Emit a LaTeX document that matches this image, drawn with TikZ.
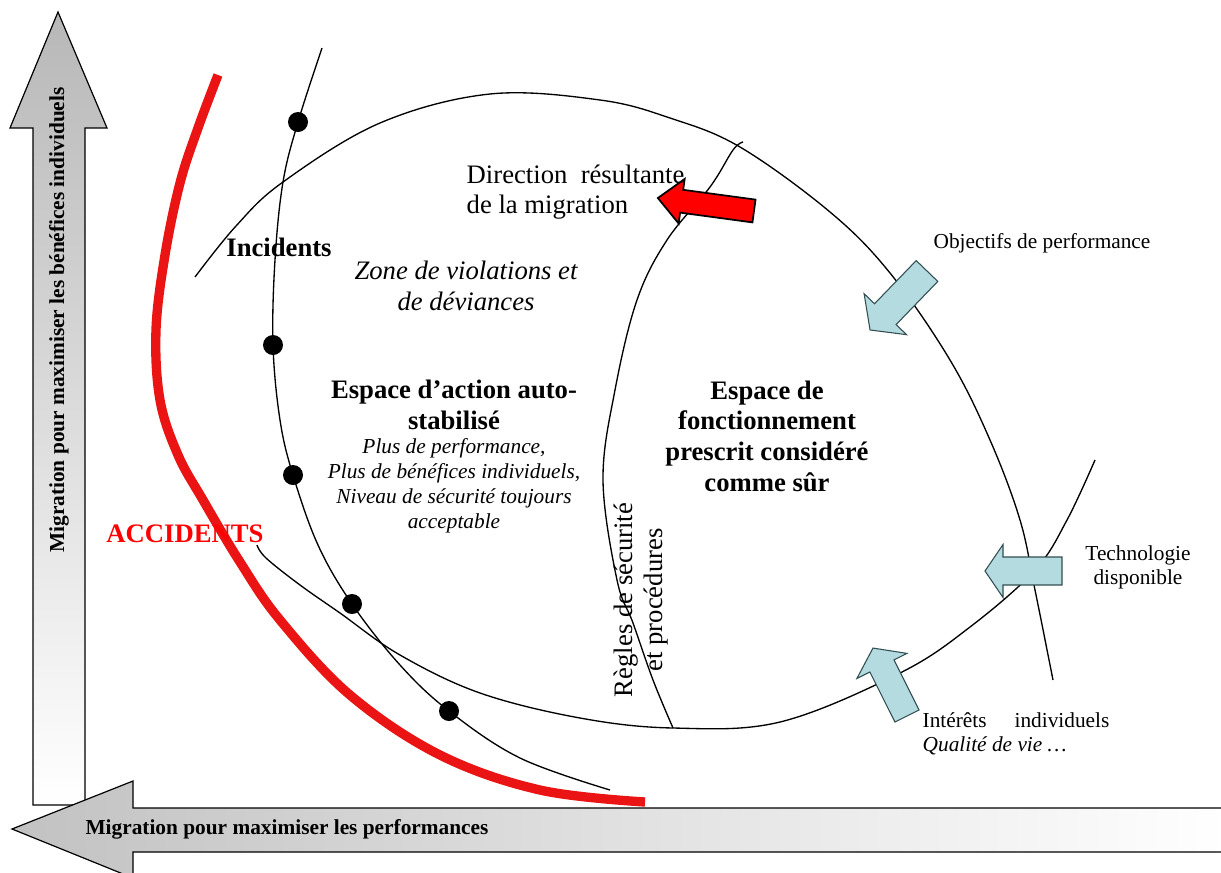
\documentclass[tikz,border=0pt]{standalone}
\usepackage{fontspec}
\setmainfont{Liberation Serif}
\definecolor{arrowblue}{RGB}{180,219,223}
\definecolor{arrowedge}{RGB}{50,78,82}
\definecolor{accred}{RGB}{235,20,20}
\tikzset{
  curve/.style={draw=black, line width=1pt},
  blackdot/.style={circle, fill=black, inner sep=0pt, minimum size=15pt},
  bluearrow/.style={fill=arrowblue, draw=arrowedge, line width=0.8pt, line join=miter},
  redarrow/.style={fill=red, draw=black, line width=1.3pt, line join=miter},
  grayarrow/.style={draw=black, line width=0.9pt, line join=miter},
  bigbold/.style={font=\bfseries\fontsize{20}{23}\selectfont, align=center},
  bigplain/.style={font=\fontsize{20}{22.5}\selectfont},
  smallplain/.style={font=\fontsize{16}{18}\selectfont},
  axislabel/.style={font=\bfseries\fontsize{16}{19}\selectfont}
}
\begin{document}
\begin{tikzpicture}[x=0.75pt,y=-0.75pt]
\useasboundingbox (0,0) rectangle (1221,872);
\fill[white] (0,0) rectangle (1221,872);

% vertical axis arrow (individual benefits)
\path[grayarrow, top color=black!28, bottom color=white]
  (33,805) -- (33,128) -- (10,128) -- (58,12) -- (107,128) -- (85,128) -- (85,805) -- cycle;
\node[axislabel, rotate=90] (vtxt) at (59,320) {Migration pour maximiser les bénéfices individuels};

% horizontal axis arrow (performance)
\path[grayarrow, left color=black!24, right color=white]
  (1226,808) -- (133,808) -- (133,781) -- (12,829) -- (133,878) -- (133,852) -- (1226,852) -- cycle;
\node[axislabel] (htxt) at (287,829) {Migration pour maximiser les performances};

% outer limit of the operating envelope
\draw[curve] plot[smooth, tension=0.6] coordinates {
  (195,277) (236,226) (283,182) (380,123) (490,94) (600,100) (670,118) (740,147)
  (830,212) (890,273) (950,360) (990,440) (1020,520) (1035,590) (1053,680)};

% lower limit of the envelope
\draw[curve] plot[smooth, tension=0.6] coordinates {
  (257,545) (266,558) (300,585) (340,613) (400,655) (480,693) (580,718) (673,728)
  (780,722) (900,673) (970,627) (1035,570) (1067,520) (1095,460)};

% safety rules boundary
\draw[curve] plot[smooth, tension=0.6] coordinates {
  (743,142) (733,150) (710,187) (667,240) (637,300) (615,390) (603,480)
  (617,580) (633,623) (653,680) (673,728)};

% boundary of acceptable performance with incident markers
\draw[curve] plot[smooth, tension=0.6] coordinates {
  (322,48) (298,122) (283,182) (275,260) (273,345) (280,420) (293,475)
  (318,545) (352,604) (400,665) (449,711) (520,758) (610,790)};
\node[blackdot] (d1) at (298,122) {};
\node[blackdot] (d2) at (273,345) {};
\node[blackdot] (d3) at (293,475) {};
\node[blackdot] (d4) at (352,604) {};
\node[blackdot] (d5) at (449,711) {};

% accident boundary
\draw[accred, line width=7pt] plot[smooth, tension=0.6] coordinates {
  (218,75) (198,128) (180,183) (165,255) (156,330) (160,400) (178,455) (203,500)
  (240,562) (280,620) (350,695) (440,755) (540,790) (645,802)};

% resulting direction of migration
\begin{scope}[shift={(754,211)}, rotate=172.3]
  \path[redarrow] (0,-11.5) -- (73,-11.5) -- (73,-22.5) -- (97,0) -- (73,22.5) -- (73,11.5) -- (0,11.5) -- cycle;
\end{scope}

% external pressures
\begin{scope}[shift={(927,271)}, rotate=226]
  \path[bluearrow] (0,-15) -- (60,-15) -- (60,-29.5) -- (82,0) -- (60,29.5) -- (60,15) -- (0,15) -- cycle;
\end{scope}
\begin{scope}[shift={(1062,571)}, rotate=180]
  \path[bluearrow] (0,-14) -- (59,-14) -- (59,-26.5) -- (77,0) -- (59,26.5) -- (59,14) -- (0,14) -- cycle;
\end{scope}
\begin{scope}[shift={(907,716)}, rotate=116.6]
  \path[bluearrow] (0,-13.5) -- (56,-13.5) -- (56,-28) -- (76,0) -- (56,28) -- (56,13.5) -- (0,13.5) -- cycle;
\end{scope}

% labels
\node[bigplain, align=left, anchor=west] (dir) at (462,192) {Direction\ \ résultante\\de la migration};
\node[font=\bfseries\fontsize{20}{23}\selectfont] (inc) at (279,247) {Incidents};
\node[font=\itshape\fontsize{20}{23}\selectfont, align=center] (zone) at (466,286) {Zone de violations et\\de déviances};
\node[bigbold] (auto) at (454,405) {Espace d’action auto-\\stabilisé};
\node[font=\itshape\fontsize{16}{18.75}\selectfont, align=center] (plus) at (454,486)
  {Plus de performance,\\Plus de bénéfices individuels,\\Niveau de sécurité toujours\\acceptable};
\node[bigbold] (presc) at (767,436) {Espace de\\fonctionnement\\prescrit considéré\\comme sûr};
\node[bigplain, align=center, rotate=90] (regles) at (641,600) {Règles de sécurité\\et procédures};
\node[font=\bfseries\fontsize{20}{23}\selectfont, text=red] (acc) at (185,534) {ACCIDENTS};
\node[smallplain] (obj) at (1042,243) {Objectifs de performance};
\node[smallplain, align=center] (tech) at (1138,567) {Technologie\\disponible};
\node[smallplain, align=left, anchor=west] (inter) at (918,734)
  {\makebox[140pt][l]{Intérêts\hfill individuels}\\\textit{Qualité de vie …}};
\end{tikzpicture}
\end{document}
